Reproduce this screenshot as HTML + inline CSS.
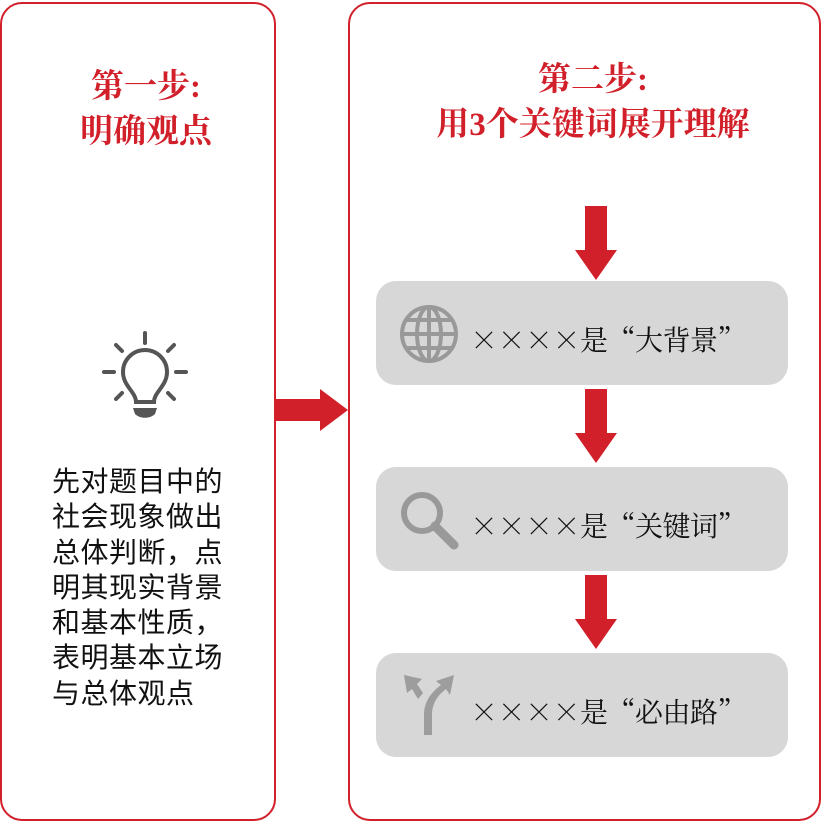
<!DOCTYPE html>
<html><head><meta charset="utf-8"><style>
body{margin:0;width:822px;height:823px;background:#fff;position:relative;overflow:hidden;font-family:"Liberation Serif","Noto Serif CJK SC",serif}
.panel{position:absolute;border:2.5px solid #d2202a;border-radius:22px;box-sizing:border-box}
.t{position:absolute;color:#d2202a;font-weight:bold;font-size:33px;text-align:center;line-height:45px;font-family:"Liberation Serif","Noto Serif CJK SC",serif}
.box{position:absolute;left:376px;width:412px;height:104px;background:#d7d7d7;border-radius:20px}
.lbl{position:absolute;left:94px;top:6px;line-height:104px;font-size:28px;color:#111;font-family:"Noto Serif CJK SC",serif;white-space:nowrap;letter-spacing:-0.5px}
.body{position:absolute;left:52px;top:464px;font-size:28px;line-height:35.3px;color:#111;font-family:"Liberation Sans","Noto Sans CJK SC",sans-serif;letter-spacing:0.5px}
</style></head><body>
<div class="panel" style="left:0;top:2px;width:276px;height:819px"></div>
<div class="panel" style="left:348px;top:2px;width:473px;height:819px"></div>
<div class="t" style="left:0;width:292px;top:65px">第一步:<br>明确观点</div>
<div class="t" style="left:360px;width:466px;top:58px">第二步:<br>用3个关键词展开理解</div>
<svg style="position:absolute;left:0;top:0" width="822" height="823">
 <g fill="#d2202a">
  <polygon points="276,399 320,399 320,389 348,410 320,431 320,421 276,421"/>
  <polygon points="585,206 607,206 607,250 617,250 596,280 575,250 585,250"/>
  <polygon points="585,389 607,389 607,433 617,433 596,463 575,433 585,433"/>
  <polygon points="585,575 607,575 607,619 617,619 596,649 575,619 585,619"/>
 </g>
 <g stroke="#555" stroke-width="4" stroke-linecap="round" fill="none">
  <line x1="145" y1="333" x2="145" y2="343"/>
  <line x1="116" y1="345" x2="122" y2="351"/><line x1="174" y1="345" x2="168" y2="351"/>
  <line x1="104" y1="372" x2="114" y2="372"/><line x1="176" y1="372" x2="186" y2="372"/>
  <line x1="116" y1="399" x2="122" y2="393"/><line x1="174" y1="399" x2="168" y2="393"/>
  <path d="M136,402 C136,392 123,386 123,372 A22,22 0 1 1 167,372 C167,386 154,392 154,402 Z"/>
 </g>
 <path d="M133,408 L157,408 L155,414 C150,419 140,419 135,414 Z" fill="#555"/>
</svg>
<div class="body">先对题目中的<br>社会现象做出<br>总体判断，点<br>明其现实背景<br>和基本性质，<br>表明基本立场<br>与总体观点</div>
<div class="box" style="top:281px">
 <svg style="position:absolute;left:22px;top:22px" width="62" height="62" viewBox="0 0 62 62" fill="none" stroke="#999" stroke-width="4">
  <circle cx="31" cy="31" r="27"/><ellipse cx="31" cy="31" rx="12" ry="27"/>
  <line x1="31" y1="4" x2="31" y2="58"/><line x1="4" y1="31" x2="58" y2="31"/>
  <path d="M9,17 H53 M9,45 H53"/>
 </svg>
 <div class="lbl">××××是“大背景”</div>
</div>
<div class="box" style="top:467px">
 <svg style="position:absolute;left:22px;top:22px" width="62" height="62" viewBox="0 0 62 62" fill="none" stroke="#999">
  <circle cx="24" cy="24" r="18" stroke-width="6"/><line x1="37" y1="37" x2="56" y2="56" stroke-width="9" stroke-linecap="round"/>
 </svg>
 <div class="lbl">××××是“关键词”</div>
</div>
<div class="box" style="top:653px">
 <svg style="position:absolute;left:20px;top:20px" width="66" height="66" viewBox="0 0 66 66" fill="#9d9d9d">
  <path d="M28,62 L36,62 L36,42 C36,30 42,22 50,16 L54,22 L58,2 L40,8 L45,12 C34,20 28,30 28,42 Z"/>
  <path d="M8,2 L26,6 L21,11 L27,20 L22,26 L16,16 L11,20 Z"/>
 </svg>
 <div class="lbl">××××是“必由路”</div>
</div>
</body></html>
